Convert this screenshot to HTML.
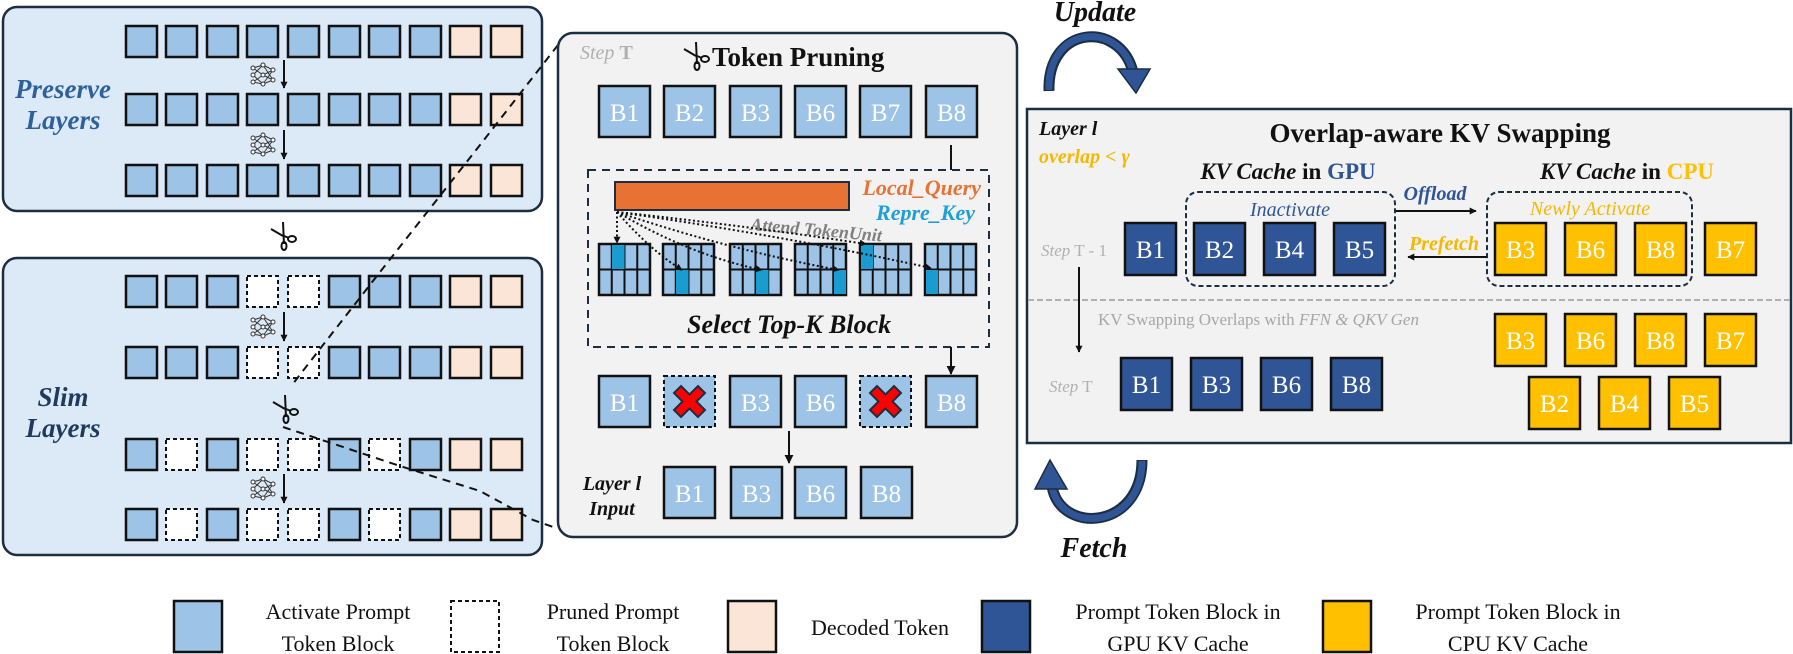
<!DOCTYPE html>
<html><head><meta charset="utf-8"><style>
html,body{margin:0;padding:0;background:#fff;}
svg{display:block;}
text{font-family:"Liberation Serif",serif;}
</style></head><body>
<svg width="1793" height="654" viewBox="0 0 1793 654" xmlns="http://www.w3.org/2000/svg">
<defs>
<rect id="bb" width="31" height="31" fill="#9dc3e6" stroke="#111" stroke-width="2.5"/>
<rect id="bd" width="31" height="31" fill="#fff" stroke="#111" stroke-width="2" stroke-dasharray="4,3"/>
<rect id="bp" width="31" height="31" fill="#fbe5d6" stroke="#111" stroke-width="2.5"/>
<g id="net" fill="none" stroke="#333" stroke-width="1">
<line x1="3" y1="6" x2="13" y2="3"/><line x1="3" y1="6" x2="13" y2="13"/><line x1="3" y1="13" x2="13" y2="3"/><line x1="3" y1="13" x2="13" y2="22"/><line x1="3" y1="20" x2="13" y2="13"/><line x1="3" y1="20" x2="13" y2="22"/>
<line x1="13" y1="3" x2="23" y2="8"/><line x1="13" y1="13" x2="23" y2="8"/><line x1="13" y1="13" x2="23" y2="18"/><line x1="13" y1="22" x2="23" y2="18"/><line x1="13" y1="3" x2="23" y2="18"/><line x1="13" y1="22" x2="23" y2="8"/>
<circle cx="3" cy="6" r="2" fill="#fff"/><circle cx="3" cy="13" r="2" fill="#fff"/><circle cx="3" cy="20" r="2" fill="#fff"/>
<circle cx="13" cy="3" r="2" fill="#fff"/><circle cx="13" cy="13" r="2" fill="#fff"/><circle cx="13" cy="22" r="2" fill="#fff"/>
<circle cx="23" cy="8" r="2" fill="#fff"/><circle cx="23" cy="18" r="2" fill="#fff"/>
</g>
<g id="sc" fill="none" stroke="#111" stroke-width="2">
<line x1="2" y1="7" x2="14" y2="14"/><path d="M14,0 L15,22"/><ellipse cx="15" cy="24" rx="2.5" ry="4"/><ellipse cx="23" cy="17" rx="4" ry="3"/><line x1="15" y1="14" x2="20" y2="16"/>
</g>
<rect id="B" width="51" height="51" fill="#9dc3e6" stroke="#111" stroke-width="2.5"/>
<rect id="G" width="51" height="52" fill="#2f5597" stroke="#111" stroke-width="2.5"/>
<rect id="C" width="51" height="52" fill="#ffc000" stroke="#111" stroke-width="2.5"/>
<g id="grid">
<rect width="51" height="51" fill="#9dc3e6" stroke="#111" stroke-width="2.5"/>
<line x1="12.75" y1="0" x2="12.75" y2="51" stroke="#111" stroke-width="2"/><line x1="25.5" y1="0" x2="25.5" y2="51" stroke="#111" stroke-width="2"/><line x1="38.25" y1="0" x2="38.25" y2="51" stroke="#111" stroke-width="2"/><line x1="0" y1="25.5" x2="51" y2="25.5" stroke="#111" stroke-width="2"/>
</g>
<g id="X"><rect width="51" height="51" fill="#9dc3e6" stroke="#111" stroke-width="2" stroke-dasharray="4,3"/>
<path d="M10,17 L17,10 L25.5,18.5 L34,10 L41,17 L32.5,25.5 L41,34 L34,41 L25.5,32.5 L17,41 L10,34 L18.5,25.5 Z" fill="#ff0000" stroke="#1c2e40" stroke-width="2"/></g>
<marker id="ah" viewBox="0 0 10 10" refX="9" refY="5" markerWidth="9" markerHeight="9" markerUnits="userSpaceOnUse" orient="auto"><path d="M0,0 L10,5 L0,10 Z" fill="#111"/></marker>
<marker id="ahs" viewBox="0 0 10 10" refX="9" refY="5" markerWidth="7" markerHeight="7" markerUnits="userSpaceOnUse" orient="auto"><path d="M0,0 L10,5 L0,10 Z" fill="#111"/></marker>
</defs>

<!-- Left top panel -->
<rect x="3" y="7" width="539" height="204" rx="14" fill="#dce9f6" stroke="#1c2e40" stroke-width="2.5"/>
<rect x="3" y="258" width="539" height="297" rx="14" fill="#dce9f6" stroke="#1c2e40" stroke-width="2.5"/>
<text x="63" y="98" font-size="27" font-weight="bold" font-style="italic" fill="#2e619c" text-anchor="middle">Preserve</text>
<text x="63" y="129" font-size="27" font-weight="bold" font-style="italic" fill="#2e619c" text-anchor="middle">Layers</text>
<text x="63" y="406" font-size="27" font-weight="bold" font-style="italic" fill="#1f3a5c" text-anchor="middle">Slim</text>
<text x="63" y="437" font-size="27" font-weight="bold" font-style="italic" fill="#1f3a5c" text-anchor="middle">Layers</text>

<!-- rows full -->
<g>
<use href="#bb" x="126" y="26"/><use href="#bb" x="166" y="26"/><use href="#bb" x="207" y="26"/><use href="#bb" x="247" y="26"/><use href="#bb" x="288" y="26"/><use href="#bb" x="329" y="26"/><use href="#bb" x="369" y="26"/><use href="#bb" x="410" y="26"/><use href="#bp" x="450" y="26"/><use href="#bp" x="491" y="26"/>
<use href="#bb" x="126" y="94"/><use href="#bb" x="166" y="94"/><use href="#bb" x="207" y="94"/><use href="#bb" x="247" y="94"/><use href="#bb" x="288" y="94"/><use href="#bb" x="329" y="94"/><use href="#bb" x="369" y="94"/><use href="#bb" x="410" y="94"/><use href="#bp" x="450" y="94"/><use href="#bp" x="491" y="94"/>
<use href="#bb" x="126" y="165"/><use href="#bb" x="166" y="165"/><use href="#bb" x="207" y="165"/><use href="#bb" x="247" y="165"/><use href="#bb" x="288" y="165"/><use href="#bb" x="329" y="165"/><use href="#bb" x="369" y="165"/><use href="#bb" x="410" y="165"/><use href="#bp" x="450" y="165"/><use href="#bp" x="491" y="165"/>
<use href="#bb" x="126" y="276"/><use href="#bb" x="166" y="276"/><use href="#bb" x="207" y="276"/><use href="#bd" x="247" y="276"/><use href="#bd" x="288" y="276"/><use href="#bb" x="329" y="276"/><use href="#bb" x="369" y="276"/><use href="#bb" x="410" y="276"/><use href="#bp" x="450" y="276"/><use href="#bp" x="491" y="276"/>
<use href="#bb" x="126" y="347"/><use href="#bb" x="166" y="347"/><use href="#bb" x="207" y="347"/><use href="#bd" x="247" y="347"/><use href="#bd" x="288" y="347"/><use href="#bb" x="329" y="347"/><use href="#bb" x="369" y="347"/><use href="#bb" x="410" y="347"/><use href="#bp" x="450" y="347"/><use href="#bp" x="491" y="347"/>
<use href="#bb" x="126" y="439"/><use href="#bd" x="166" y="439"/><use href="#bb" x="207" y="439"/><use href="#bd" x="247" y="439"/><use href="#bd" x="288" y="439"/><use href="#bb" x="329" y="439"/><use href="#bd" x="369" y="439"/><use href="#bb" x="410" y="439"/><use href="#bp" x="450" y="439"/><use href="#bp" x="491" y="439"/>
<use href="#bb" x="126" y="509"/><use href="#bd" x="166" y="509"/><use href="#bb" x="207" y="509"/><use href="#bd" x="247" y="509"/><use href="#bd" x="288" y="509"/><use href="#bb" x="329" y="509"/><use href="#bd" x="369" y="509"/><use href="#bb" x="410" y="509"/><use href="#bp" x="450" y="509"/><use href="#bp" x="491" y="509"/>
</g>
<!-- nets & arrows -->
<use href="#net" x="250" y="62"/><line x1="284" y1="60" x2="284" y2="88" stroke="#111" stroke-width="2" marker-end="url(#ahs)"/>
<use href="#net" x="250" y="132"/><line x1="284" y1="130" x2="284" y2="159" stroke="#111" stroke-width="2" marker-end="url(#ahs)"/>
<use href="#net" x="250" y="314"/><line x1="284" y1="312" x2="284" y2="341" stroke="#111" stroke-width="2" marker-end="url(#ahs)"/>
<use href="#net" x="250" y="476"/><line x1="284" y1="474" x2="284" y2="503" stroke="#111" stroke-width="2" marker-end="url(#ahs)"/>
<use href="#sc" x="269" y="222"/>
<use href="#sc" x="271" y="395"/>
<!-- dashed zoom lines -->
<polyline points="558,45 480,145 380,272 323,345 292,385" fill="none" stroke="#111" stroke-width="2" stroke-dasharray="8,6"/>
<polyline points="283,427 322,440 400,466 480,491 533,520 556,528" fill="none" stroke="#111" stroke-width="2" stroke-dasharray="8,6"/>

<!-- Center panel -->
<rect x="558" y="33" width="459" height="504" rx="15" fill="#f2f2f2" stroke="#1c2e40" stroke-width="2.5"/>
<text x="580" y="59" font-size="20" font-style="italic" fill="#b0b0b0">Step <tspan font-style="normal" font-weight="bold">T</tspan></text>
<use href="#sc" x="682" y="42"/>
<text x="712" y="66" font-size="27" font-weight="bold" fill="#111">Token Pruning</text>
<g font-size="25" fill="#fff" text-anchor="middle">
<use href="#B" x="599" y="86"/><text x="624.5" y="121">B1</text>
<use href="#B" x="664" y="86"/><text x="689.5" y="121">B2</text>
<use href="#B" x="730" y="86"/><text x="755.5" y="121">B3</text>
<use href="#B" x="795" y="86"/><text x="820.5" y="121">B6</text>
<use href="#B" x="860" y="86"/><text x="885.5" y="121">B7</text>
<use href="#B" x="926" y="86"/><text x="951.5" y="121">B8</text>
</g>
<line x1="951" y1="145" x2="951" y2="170" stroke="#111" stroke-width="2"/>
<rect x="588" y="170" width="401" height="177" fill="none" stroke="#1c2e40" stroke-width="2" stroke-dasharray="8,6"/>
<rect x="615" y="182" width="234" height="28" fill="#e87234" stroke="#1c2e40" stroke-width="2"/>
<text x="981" y="195" font-size="22" font-weight="bold" font-style="italic" fill="#e87234" text-anchor="end">Local_Query</text>
<text x="975" y="220" font-size="22" font-weight="bold" font-style="italic" fill="#1e9fd8" text-anchor="end">Repre_Key</text>
<text x="750" y="230" font-size="18" font-weight="bold" font-style="italic" fill="#7f7f7f" transform="rotate(5 750 230)">Attend TokenUnit</text>
<use href="#grid" x="599" y="244"/><rect x="612" y="245" width="12.5" height="24" fill="#1a9cd0"/>
<use href="#grid" x="663" y="244"/><rect x="676" y="270" width="12.5" height="24" fill="#1a9cd0"/>
<use href="#grid" x="730" y="244"/><rect x="756" y="270" width="12.5" height="24" fill="#1a9cd0"/>
<use href="#grid" x="795" y="244"/><rect x="834" y="270" width="12" height="24" fill="#1a9cd0"/>
<use href="#grid" x="860" y="244"/><rect x="861" y="245" width="12" height="24" fill="#1a9cd0"/>
<use href="#grid" x="925" y="244"/><rect x="926" y="270" width="12" height="24" fill="#1a9cd0"/>
<g fill="none" stroke="#111" stroke-width="2" stroke-dasharray="2,2.5">
<path d="M617,212 L617,243" marker-end="url(#ahs)"/>
<path d="M617,212 Q650,250 682,270" marker-end="url(#ahs)"/>
<path d="M617,212 Q690,255 762,270" marker-end="url(#ahs)"/>
<path d="M617,212 Q730,250 839,270" marker-end="url(#ahs)"/>
<path d="M617,212 Q740,225 866,244" marker-end="url(#ahs)"/>
<path d="M617,212 Q780,235 931,268" marker-end="url(#ahs)"/>
</g>
<text x="687" y="333" font-size="26" font-weight="bold" font-style="italic" fill="#111">Select Top-K Block</text>
<line x1="951" y1="347" x2="951" y2="374" stroke="#111" stroke-width="2" marker-end="url(#ah)"/>
<g font-size="25" fill="#fff" text-anchor="middle">
<use href="#B" x="599" y="376"/><text x="624.5" y="411">B1</text>
<use href="#X" x="664" y="376"/>
<use href="#B" x="730" y="376"/><text x="755.5" y="411">B3</text>
<use href="#B" x="795" y="376"/><text x="820.5" y="411">B6</text>
<use href="#X" x="860" y="376"/>
<use href="#B" x="926" y="376"/><text x="951.5" y="411">B8</text>
</g>
<line x1="789" y1="431" x2="789" y2="463" stroke="#111" stroke-width="2" marker-end="url(#ah)"/>
<text x="612" y="490" font-size="20" font-weight="bold" font-style="italic" fill="#111" text-anchor="middle">Layer l</text>
<text x="612" y="515" font-size="20" font-weight="bold" font-style="italic" fill="#111" text-anchor="middle">Input</text>
<g font-size="25" fill="#fff" text-anchor="middle">
<use href="#B" x="664" y="467"/><text x="689.5" y="502">B1</text>
<use href="#B" x="731" y="467"/><text x="756.5" y="502">B3</text>
<use href="#B" x="795" y="467"/><text x="820.5" y="502">B6</text>
<use href="#B" x="861" y="467"/><text x="886.5" y="502">B8</text>
</g>

<!-- Update / Fetch arrows -->
<text x="1095" y="21" font-size="28" font-weight="bold" font-style="italic" fill="#111" text-anchor="middle">Update</text>
<path d="M1049,91 C1047,25 1120,20 1133,72" fill="none" stroke="#1c2e40" stroke-width="11"/>
<path d="M1049,90 C1047,25 1120,20 1133,72" fill="none" stroke="#2f5597" stroke-width="7"/>
<path d="M1118,69 L1150,69 L1136,93 Z" fill="#2f5597" stroke="#1c2e40" stroke-width="1.5"/>
<path d="M1142,460 C1142,530 1060,535 1052,486" fill="none" stroke="#1c2e40" stroke-width="11"/>
<path d="M1142,461 C1142,530 1060,535 1052,486" fill="none" stroke="#2f5597" stroke-width="7"/>
<path d="M1035,489 L1067,489 L1050,460 Z" fill="#2f5597" stroke="#1c2e40" stroke-width="1.5"/>
<text x="1094" y="557" font-size="28" font-weight="bold" font-style="italic" fill="#111" text-anchor="middle">Fetch</text>

<!-- Right panel -->
<rect x="1027" y="109" width="764" height="334" fill="#f2f2f2" stroke="#1c2e40" stroke-width="2.5"/>
<text x="1039" y="135" font-size="20" font-weight="bold" font-style="italic" fill="#111">Layer l</text>
<text x="1039" y="163" font-size="20" font-weight="bold" font-style="italic" fill="#f5b800">overlap &lt; γ</text>
<text x="1440" y="142" font-size="27" font-weight="bold" fill="#111" text-anchor="middle">Overlap-aware KV Swapping</text>
<text x="1288" y="179" font-size="23" font-weight="bold" fill="#111" text-anchor="middle"><tspan font-style="italic">KV Cache</tspan> in <tspan fill="#2f5597">GPU</tspan></text>
<text x="1627" y="179" font-size="23" font-weight="bold" fill="#111" text-anchor="middle"><tspan font-style="italic">KV Cache</tspan> in <tspan fill="#ffc000">CPU</tspan></text>
<rect x="1186" y="192" width="209" height="94" rx="12" fill="none" stroke="#1c2e40" stroke-width="2" stroke-dasharray="5,3"/>
<rect x="1487" y="192" width="205" height="94" rx="12" fill="none" stroke="#1c2e40" stroke-width="2" stroke-dasharray="5,3"/>
<text x="1290" y="216" font-size="20" font-style="italic" fill="#2f5597" text-anchor="middle">Inactivate</text>
<text x="1590" y="215" font-size="20" font-style="italic" fill="#f5b800" text-anchor="middle">Newly Activate</text>
<text x="1435" y="200" font-size="20" font-style="italic" font-weight="bold" fill="#2f5597" text-anchor="middle">Offload</text>
<line x1="1396" y1="211" x2="1476" y2="211" stroke="#111" stroke-width="2" marker-end="url(#ahs)"/>
<text x="1444" y="250" font-size="20" font-style="italic" font-weight="bold" fill="#f5b800" text-anchor="middle">Prefetch</text>
<line x1="1487" y1="257" x2="1408" y2="257" stroke="#111" stroke-width="2" marker-end="url(#ahs)"/>
<text x="1041" y="256" font-size="17" fill="#b0b0b0"><tspan font-style="italic">Step</tspan> T - 1</text>
<g font-size="25" fill="#fff" text-anchor="middle">
<use href="#G" x="1125" y="223"/><text x="1150.5" y="258">B1</text>
<use href="#G" x="1194" y="223"/><text x="1219.5" y="258">B2</text>
<use href="#G" x="1264" y="223"/><text x="1289.5" y="258">B4</text>
<use href="#G" x="1334" y="223"/><text x="1359.5" y="258">B5</text>
<use href="#C" x="1495" y="223"/><text x="1520.5" y="258">B3</text>
<use href="#C" x="1565" y="223"/><text x="1590.5" y="258">B6</text>
<use href="#C" x="1635" y="223"/><text x="1660.5" y="258">B8</text>
<use href="#C" x="1705" y="223"/><text x="1730.5" y="258">B7</text>
</g>
<line x1="1028" y1="300" x2="1790" y2="300" stroke="#b0b0b0" stroke-width="2" stroke-dasharray="6,3"/>
<line x1="1079" y1="267" x2="1079" y2="352" stroke="#111" stroke-width="2" marker-end="url(#ahs)"/>
<text x="1098" y="325" font-size="17" fill="#a6a6a6">KV Swapping Overlaps with <tspan font-style="italic">FFN &amp; QKV Gen</tspan></text>
<text x="1049" y="392" font-size="17" fill="#b0b0b0"><tspan font-style="italic">Step</tspan> T</text>
<g font-size="25" fill="#fff" text-anchor="middle">
<use href="#G" x="1121" y="358"/><text x="1146.5" y="393">B1</text>
<use href="#G" x="1191" y="358"/><text x="1216.5" y="393">B3</text>
<use href="#G" x="1261" y="358"/><text x="1286.5" y="393">B6</text>
<use href="#G" x="1331" y="358"/><text x="1356.5" y="393">B8</text>
<use href="#C" x="1495" y="314"/><text x="1520.5" y="349">B3</text>
<use href="#C" x="1565" y="314"/><text x="1590.5" y="349">B6</text>
<use href="#C" x="1635" y="314"/><text x="1660.5" y="349">B8</text>
<use href="#C" x="1705" y="314"/><text x="1730.5" y="349">B7</text>
<use href="#C" x="1529" y="377"/><text x="1554.5" y="412">B2</text>
<use href="#C" x="1599" y="377"/><text x="1624.5" y="412">B4</text>
<use href="#C" x="1669" y="377"/><text x="1694.5" y="412">B5</text>
</g>

<!-- Legend -->
<g font-size="22" fill="#111" text-anchor="middle">
<rect x="174" y="601" width="48" height="51" fill="#9dc3e6" stroke="#111" stroke-width="2.5"/>
<text x="338" y="619">Activate Prompt</text><text x="338" y="651">Token Block</text>
<rect x="451" y="601" width="48" height="51" fill="#fff" stroke="#111" stroke-width="2" stroke-dasharray="4,3"/>
<text x="613" y="619">Pruned Prompt</text><text x="613" y="651">Token Block</text>
<rect x="728" y="601" width="48" height="51" fill="#fbe5d6" stroke="#111" stroke-width="2.5"/>
<text x="880" y="635">Decoded Token</text>
<rect x="982" y="601" width="48" height="51" fill="#2f5597" stroke="#111" stroke-width="2.5"/>
<text x="1178" y="619">Prompt Token Block in</text><text x="1178" y="651">GPU KV Cache</text>
<rect x="1323" y="601" width="48" height="51" fill="#ffc000" stroke="#111" stroke-width="2.5"/>
<text x="1518" y="619">Prompt Token Block in</text><text x="1518" y="651">CPU KV Cache</text>
</g>
</svg>
</body></html>
